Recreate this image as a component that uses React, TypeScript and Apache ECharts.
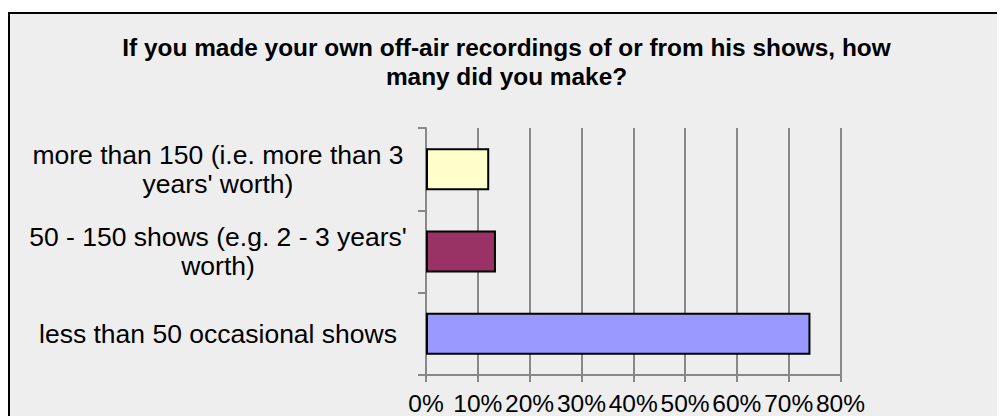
import React, { useEffect, useRef } from "react";
import * as echarts from "echarts";

const titleText =
  "If you made your own off-air recordings of or from his shows, how\nmany did you make?";

const categories = [
  "less than 50 occasional shows",
  "50 - 150 shows (e.g. 2 - 3 years'\nworth)",
  "more than 150 (i.e. more than 3\nyears' worth)",
];

const values = [74.2, 13.5, 12.2];

const barColors = ["#9999FF", "#993366", "#FFFFCC"];

const xTicks = [0, 10, 20, 30, 40, 50, 60, 70, 80];

const FONT = "'Liberation Sans', Arial, Helvetica, sans-serif";

export default function App() {
  const ref = useRef<HTMLDivElement>(null);

  useEffect(() => {
    if (!ref.current) return;
    const chart = echarts.init(ref.current, undefined, { renderer: "svg" });
    chart.setOption({
      animation: false,
      backgroundColor: "#EEEEEE",
      title: {
        text: titleText,
        left: "center",
        top: 21,
        padding: 0,
        textStyle: {
          fontFamily: FONT,
          fontSize: 24.4,
          fontWeight: "bold",
          color: "#000000",
          lineHeight: 29,
        },
      },
      graphic: [
        {
          type: "polyline",
          shape: { points: [[1, 404], [1, 1], [997, 1]] },
          style: { stroke: "#000000", lineWidth: 2, fill: "none" },
          silent: true,
        },
      ],
      grid: {
        left: 418,
        right: 164.5,
        top: 116,
        bottom: 39,
        containLabel: false,
      },
      xAxis: {
        type: "value",
        min: xTicks[0],
        max: xTicks[xTicks.length - 1],
        interval: 10,
        axisLine: { show: true, lineStyle: { color: "#888888", width: 2 } },
        axisTick: { show: true, length: 7, lineStyle: { color: "#888888", width: 2 } },
        splitLine: { show: true, lineStyle: { color: "#888888", width: 2 } },
        axisLabel: {
          formatter: "{value}%",
          fontFamily: FONT,
          fontSize: 24.5,
          color: "#000000",
          margin: 16,
        },
      },
      yAxis: {
        type: "category",
        data: categories,
        axisLine: { show: true, lineStyle: { color: "#888888", width: 2 } },
        axisTick: { show: true, length: 8, lineStyle: { color: "#888888", width: 2 } },
        axisLabel: {
          fontFamily: FONT,
          fontSize: 26.5,
          color: "#000000",
          align: "center",
          lineHeight: 29,
          margin: 208,
        },
      },
      series: [
        {
          type: "bar",
          barWidth: 42,
          data: values.map((v, i) => ({
            value: v,
            itemStyle: { color: barColors[i], borderColor: "#000000", borderWidth: 2 },
          })),
        },
      ],
    });
    return () => chart.dispose();
  }, []);

  return (
    <div style={{ paddingTop: 4 }}>
      <div ref={ref} style={{ width: 997, height: 404 }} />
    </div>
  );
}
